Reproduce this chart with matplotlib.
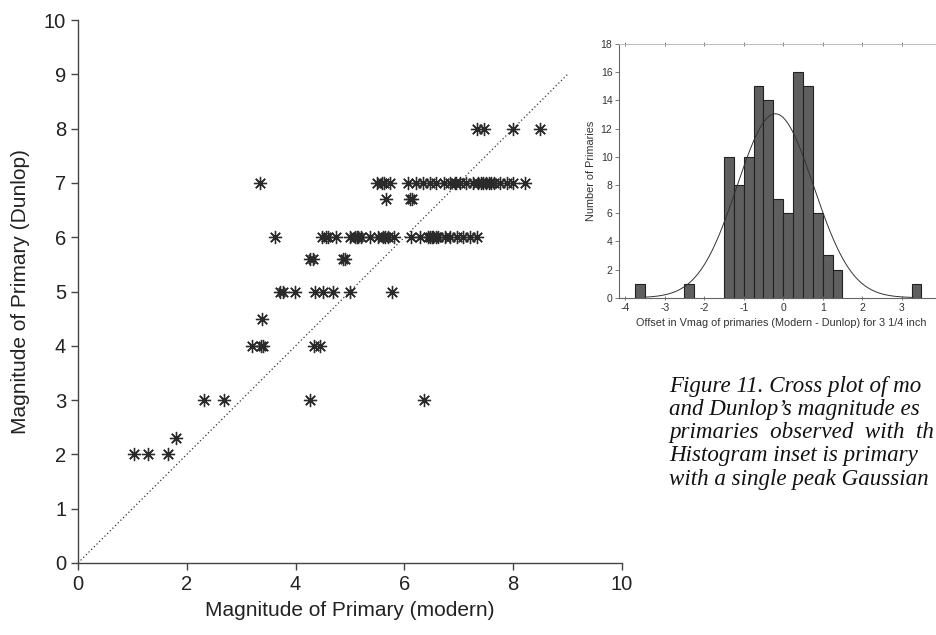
import matplotlib
matplotlib.use("Agg")
import matplotlib.pyplot as plt
import numpy as np

# ---------------- data ----------------
# Cross plot: modern magnitude (x) vs Dunlop magnitude (y)
x_mag8 = [7.33, 7.46, 8.0, 8.5]
x_mag7 = [3.35, 5.49, 5.58, 5.62, 5.74, 6.07, 6.22, 6.35, 6.47, 6.59, 6.72, 6.84,
          6.93, 6.95, 7.02, 7.14, 7.27, 7.35, 7.40, 7.45, 7.50, 7.55, 7.60, 7.64,
          7.76, 7.88, 8.0, 8.22]
x_mag67 = [5.67, 6.11, 6.14]
x_mag6 = [3.62, 4.48, 4.55, 4.60, 4.74, 5.0, 5.09, 5.12, 5.15, 5.21, 5.37, 5.52,
          5.61, 5.65, 5.70, 5.80, 6.13, 6.29, 6.44, 6.47, 6.50, 6.53, 6.58, 6.62,
          6.75, 6.84, 6.96, 7.08, 7.21, 7.33]
x_mag56 = [4.26, 4.32, 4.88, 4.91]
x_mag5 = [3.72, 3.76, 3.99, 4.36, 4.51, 4.69, 5.0, 5.77]
x_mag45 = [3.38]
x_mag4 = [3.19, 3.36, 3.40, 4.33, 4.45]
x_mag3 = [2.32, 2.69, 4.26, 6.36]
x_mag23 = [1.80]
x_mag2 = [1.03, 1.28, 1.65]
dunlop_rows = [8.0, 7.0, 6.7, 6.0, 5.6, 5.0, 4.5, 4.0, 3.0, 2.3, 2.0]
modern_rows = [x_mag8, x_mag7, x_mag67, x_mag6, x_mag56, x_mag5, x_mag45,
               x_mag4, x_mag3, x_mag23, x_mag2]
one_to_one = [0, 9]

main_ticks = [0, 2, 4, 6, 8, 10]
main_yticks = [0, 1, 2, 3, 4, 5, 6, 7, 8, 9, 10]

# Histogram inset: offsets (Modern - Dunlop), bin width 0.25
bin_left = [-3.75, -2.5, -1.5, -1.25, -1.0, -0.75, -0.5, -0.25, 0.0, 0.25,
            0.5, 0.75, 1.0, 1.25, 3.25]
bin_count = [1, 1, 10, 8, 10, 15, 14, 7, 6, 16, 15, 6, 3, 2, 1]
bin_width = 0.25
gauss_mu = -0.2
gauss_sigma = 0.97
gauss_peak = 13.05
hist_xticks = [-4, -3, -2, -1, 0, 1, 2, 3]
hist_yticks = [0, 2, 4, 6, 8, 10, 12, 14, 16, 18]

# caption as visible in the reference (cut off at the right edge)
caption_lines = [
    "Figure 11. Cross plot of mo",
    "and Dunlop\u2019s magnitude es",
    "primaries  observed  with  th",
    "Histogram inset is primary",
    "with a single peak Gaussian",
]

# ---------------- figure ----------------
fig = plt.figure(figsize=(9.36, 6.35), dpi=100)
plt.rcParams['font.family'] = ['Liberation Sans', 'DejaVu Sans']

ax = fig.add_axes([78 / 936, 1 - 563 / 635, 544 / 936, 543 / 635])
ax.plot(one_to_one, one_to_one, linestyle=(0, (1, 2)), color='#333333', lw=0.9)
for yv, xs in zip(dunlop_rows, modern_rows):
    ax.plot(xs, [yv] * len(xs), linestyle='none', marker=(8, 2, 0),
            markersize=9.5, markeredgewidth=0.95, color='#2a2a2a')
ax.set_xlim(0, 10)
ax.set_ylim(0, 10)
ax.set_xticks(main_ticks)
ax.set_xticklabels([str(t) for t in main_ticks])
ax.set_yticks(main_yticks)
ax.set_yticklabels([str(t) for t in main_yticks])
ax.spines['top'].set_visible(False)
ax.spines['right'].set_visible(False)
for s in ['left', 'bottom']:
    ax.spines[s].set_color('#444444')
    ax.spines[s].set_linewidth(1.0)
ax.tick_params(axis='both', labelsize=14.5, length=5, width=1.0,
               color='#444444', labelcolor='#222222', direction='out')
ax.set_xlabel("Magnitude of Primary (modern)", fontsize=15, color='#222222',
              labelpad=5)
ax.set_ylabel("Magnitude of Primary (Dunlop)", fontsize=15, color='#222222',
              labelpad=10)

# ---------------- inset histogram ----------------
ix0 = 619.3 / 936
iy0 = 1 - 297.7 / 635
iw = (8.2 * 39.5) / 936
ih = (297.7 - 44) / 635
axi = fig.add_axes([ix0, iy0, iw, ih])
axi.bar(bin_left, bin_count, width=bin_width, align='edge', color='#5f5f5f',
        edgecolor='#222222', linewidth=0.8)
xg = np.linspace(-3.5, 3.25, 300)
axi.plot(xg, gauss_peak * np.exp(-0.5 * ((xg - gauss_mu) / gauss_sigma) ** 2),
         color='#333333', lw=0.7)
axi.set_xlim(-4.15, 4.05)
axi.set_ylim(0, 18)
axi.set_xticks(hist_xticks)
axi.set_xticklabels([str(t) for t in hist_xticks])
axi.set_yticks(hist_yticks)
axi.set_yticklabels([str(t) for t in hist_yticks])
axi.spines['right'].set_visible(False)
axi.spines['top'].set_color('#bbbbbb')
axi.spines['top'].set_linewidth(0.7)
for s in ['left', 'bottom']:
    axi.spines[s].set_color('#666666')
    axi.spines[s].set_linewidth(0.8)
axi.tick_params(axis='both', labelsize=7.5, length=3, width=0.6,
                color='#666666', labelcolor='#333333', pad=2)
axi.tick_params(axis='x', top=True, direction='inout')
axi.set_ylabel("Number of Primaries", fontsize=7.8, color='#333333', labelpad=3)
axi.set_xlabel("Offset in Vmag of primaries (Modern - Dunlop) for 3 1/4 inch",
               fontsize=7.8, color='#333333', labelpad=4)

# ---------------- caption ----------------
for i, line in enumerate(caption_lines):
    fig.text(669 / 936, 1 - (391.7 + i * 23.2) / 635, line,
             fontsize=16.6, family=['Liberation Serif', 'DejaVu Serif'],
             style='italic', color='#111111', va='baseline', ha='left')

fig.savefig("out.png", dpi=100)
